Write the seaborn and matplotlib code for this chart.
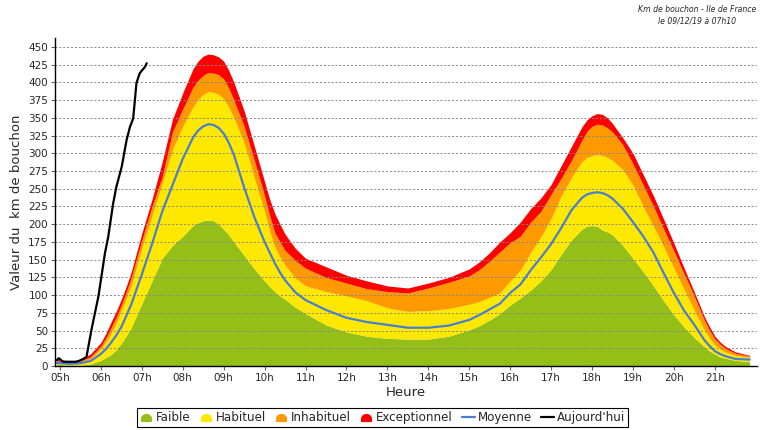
import numpy as np
import pandas as pd
import matplotlib
matplotlib.use("Agg")
import matplotlib.pyplot as plt
import seaborn as sns
from matplotlib.lines import Line2D
from matplotlib.path import Path

# ---------------- data ----------------
hours = [4.92, 5.0, 5.25, 5.5, 5.75, 6.0, 6.125, 6.25, 6.375, 6.5, 6.625, 6.75, 7.0, 7.25, 7.5, 7.75,
         8.0, 8.25, 8.375, 8.5, 8.625, 8.75, 8.875, 9.0, 9.125, 9.25, 9.5, 9.75, 10.0,
         10.125, 10.25, 10.375, 10.5, 10.75,
         11.0, 11.5, 12.0, 12.5, 13.0, 13.5, 14.0, 14.5, 15.0, 15.25, 15.5, 15.75, 16.0,
         16.25, 16.5, 16.75, 17.0, 17.25, 17.5, 17.75, 17.875, 18.0, 18.125, 18.25, 18.375, 18.5,
         18.75, 19.0, 19.25, 19.5, 19.75, 20.0, 20.25, 20.5, 20.75, 20.875, 21.0, 21.125,
         21.25, 21.5, 21.85]

faible = [2, 2, 1, 1, 3, 8, 12, 16, 23, 32, 43, 55, 88, 120, 152, 170,
          183, 198, 202, 205, 206, 205, 200, 193, 185, 175, 156, 137, 120,
          112, 105, 99, 94, 83,
          74, 58, 48, 42, 39, 38, 38, 42, 51, 57, 65, 74, 86,
          96, 107, 120, 136, 158, 178, 193, 197, 198, 197, 192, 189, 185,
          170, 152, 133, 113, 92, 72, 55, 40, 27, 21, 17, 13,
          11, 8, 6]

habituel = [5, 5, 4, 5, 10, 24, 34, 46, 61, 78, 96, 115, 166, 212, 258, 305,
            338, 365, 376, 383, 387, 386, 383, 377, 365, 350, 315, 265, 218,
            190, 168, 154, 142, 124,
            113, 105, 99, 92, 82, 77, 78, 81, 87, 91, 97, 103, 120,
            135, 160, 182, 208, 240, 266, 288, 294, 297, 298, 297, 294, 290,
            277, 255, 225, 197, 168, 138, 108, 78, 50, 39, 30, 24,
            20, 15, 12]

inhabituel = [7, 7, 5, 7, 13, 28, 40, 54, 69, 86, 105, 126, 177, 225, 267, 330,
              362, 393, 403, 410, 414, 413, 411, 405, 392, 375, 338, 290, 240,
              212, 188, 175, 163, 149,
              138, 125, 117, 109, 105, 103, 110, 118, 127, 136, 148, 161, 174,
              183, 203, 218, 242, 265, 290, 318, 331, 338, 341, 340, 336, 330,
              312, 285, 255, 225, 193, 162, 130, 98, 64, 50, 38, 31,
              25, 18, 14]

exceptionnel = [9, 9, 7, 9, 17, 33, 46, 62, 77, 94, 113, 134, 187, 235, 288, 348,
                385, 419, 430, 437, 440, 439, 436, 430, 417, 400, 360, 310, 260,
                235, 215, 200, 186, 166,
                152, 140, 128, 120, 113, 110, 117, 125, 137, 147, 160, 175, 188,
                203, 222, 237, 256, 283, 310, 337, 347, 353, 356, 355, 350, 342,
                322, 300, 270, 240, 207, 173, 138, 104, 69, 55, 42, 34,
                28, 20, 15]

moyenne = [4, 4, 3, 4, 7, 17, 24, 33, 43, 55, 71, 88, 129, 172, 218, 255,
           292, 322, 332, 338, 341, 340, 336, 328, 315, 298, 252, 210, 175,
           160, 145, 132, 121, 104,
           93, 79, 68, 62, 58, 54, 54, 57, 65, 72, 80, 88, 103,
           115, 135, 153, 172, 195, 220, 237, 242, 244, 245, 244, 241, 236,
           222, 203, 183, 160, 131, 103, 78, 58, 36, 28, 21, 17,
           14, 10, 9]

today_hours = [4.92, 4.97, 5.08, 5.25, 5.4, 5.5, 5.6, 5.65, 5.77, 5.94, 6.1,
               6.18, 6.3, 6.38, 6.51, 6.63, 6.71, 6.79, 6.87, 6.95, 7.08, 7.12]
today = [8, 11, 6, 6, 6, 8, 11, 13, 51, 98, 159,
         182, 229, 253, 281, 319, 337, 349, 399, 413, 422, 427]

tick_hours = list(range(5, 22))
tick_labels = [f"{h:02d}h" for h in tick_hours]
y_ticks = list(range(0, 451, 25))

# ---------------- style ----------------
sns.set_style("white")
plt.rcParams['font.family'] = ['DejaVu Sans']

c_green = "#94be18"
c_yellow = "#ffe800"
c_orange = "#ff9900"
c_red = "#ff0000"
c_blue = "#4a7ed0"

fig = plt.figure(figsize=(7.65, 4.30), dpi=100)
ax = fig.add_axes([55/765, 1-366/430, (757-55)/765, (366-38)/430])

h = np.array(hours)
ax.fill_between(h, 0, faible, color=c_green, lw=0, zorder=1)
ax.fill_between(h, faible, habituel, color=c_yellow, lw=0, zorder=1)
ax.fill_between(h, habituel, inhabituel, color=c_orange, lw=0, zorder=1)
ax.fill_between(h, inhabituel, exceptionnel, color=c_red, lw=0, zorder=1)

df_m = pd.DataFrame({"h": hours, "v": moyenne})
df_t = pd.DataFrame({"h": today_hours, "v": today})
sns.lineplot(data=df_m, x="h", y="v", ax=ax, color=c_blue, lw=1.6, zorder=3)
sns.lineplot(data=df_t, x="h", y="v", ax=ax, color="black", lw=1.6, zorder=4)

ax.set_xlim(4.88, 22.03)
ax.set_ylim(0, 462.6)
ax.set_xticks(tick_hours)
ax.set_xticklabels(tick_labels)
ax.set_yticks(y_ticks)
ax.yaxis.grid(True, color="#888888", ls=(0, (2, 2)), lw=0.7)
ax.xaxis.grid(False)
ax.set_axisbelow(False)
for l in ax.get_ygridlines():
    l.set_zorder(2)
ax.tick_params(axis="both", labelsize=7.5, length=3, width=0.8, color="#666666",
               direction="out", pad=2, bottom=True, left=True)
for s in ["top", "right"]:
    ax.spines[s].set_visible(False)
for s in ["left", "bottom"]:
    ax.spines[s].set_color("black")
    ax.spines[s].set_linewidth(1.0)
    ax.spines[s].set_zorder(5)

ax.set_xlabel("Heure", fontsize=9.5, labelpad=2)
ax.set_ylabel("Valeur du  km de bouchon", fontsize=9.5, labelpad=4)

fig.text(0.911, 0.988, "Km de bouchon - Ile de France\nle 09/12/19 à 07h10",
         ha="center", va="top", fontsize=5.6, style="italic", linespacing=1.3)

# dome marker for area legend entries
theta = np.linspace(0, np.pi, 12)
verts = [(np.cos(t), np.sin(t) * 0.9 - 0.3) for t in theta] + [(-1, -0.8), (1, -0.8), (1, -0.3)]
codes = [Path.MOVETO] + [Path.LINETO] * (len(verts) - 2) + [Path.CLOSEPOLY]
dome = Path(verts, codes)

handles = [
    Line2D([], [], ls="none", marker=dome, ms=7, mfc=c_green, mec=c_green),
    Line2D([], [], ls="none", marker=dome, ms=7, mfc=c_yellow, mec=c_yellow),
    Line2D([], [], ls="none", marker=dome, ms=7, mfc=c_orange, mec=c_orange),
    Line2D([], [], ls="none", marker=dome, ms=7, mfc=c_red, mec=c_red),
    Line2D([], [], color=c_blue, lw=1.6),
    Line2D([], [], color="black", lw=1.6),
]
labels = ["Faible", "Habituel", "Inhabituel", "Exceptionnel", "Moyenne", "Aujourd'hui"]
leg = fig.legend(handles, labels, loc="center", bbox_to_anchor=(0.5, 1-417.5/430),
                 ncol=6, fontsize=8.6, frameon=True, fancybox=False, framealpha=1,
                 edgecolor="black", handlelength=1.1, handletextpad=0.25,
                 columnspacing=0.75, borderpad=0.25, borderaxespad=0)
leg.get_frame().set_linewidth(0.8)

fig.savefig("out.png", dpi=100)
